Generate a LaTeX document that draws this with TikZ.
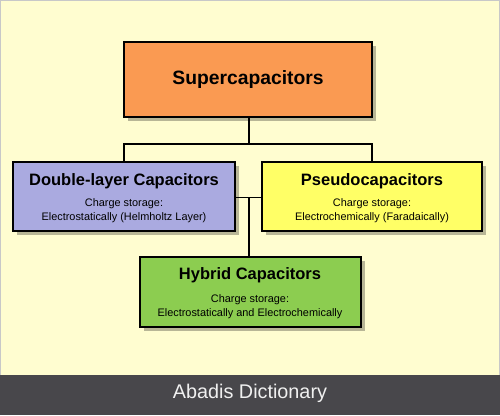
\documentclass[tikz,border=0pt]{standalone}
\usepackage{fontspec}
\setmainfont{Liberation Sans}
\usetikzlibrary{shadows}
\definecolor{cream}{HTML}{FFFDD0}
\definecolor{frameg}{HTML}{C8C8C8}
\definecolor{barg}{HTML}{48474B}
\definecolor{orangebox}{HTML}{FA9A52}
\definecolor{bluebox}{HTML}{AAAAE0}
\definecolor{yellowbox}{HTML}{FFFF66}
\definecolor{greenbox}{HTML}{8CCD50}
\tikzset{
  boxstyle/.style={draw=black, line width=2pt, rectangle, inner sep=0pt,
    drop shadow={shadow xshift=4pt, shadow yshift=-4pt, fill=black, opacity=0.28}},
  bigtitle/.style={font=\bfseries\fontsize{19.3}{22}\selectfont, inner sep=0pt},
  subtitle/.style={font=\bfseries\fontsize{16.5}{19}\selectfont, inner sep=0pt},
  smalltext/.style={font=\fontsize{10.9}{14}\selectfont, align=center, inner sep=0pt},
  link/.style={draw=black, line width=1.6pt},
}
\begin{document}
\begin{tikzpicture}[x=1pt,y=-1pt]
\useasboundingbox (0,0) rectangle (500,415);
% background
\fill[frameg] (0,0) rectangle (500,375);
\fill[cream] (1,1) rectangle (499,375);
\fill[barg] (0,375) rectangle (500,415);
\node[font=\fontsize{19.8}{22}\selectfont, text=white!94!black, inner sep=0pt] (brand) at (250,393) {Abadis Dictionary};
% connector coordinates
\coordinate (j1) at (249,144);
\coordinate (j2) at (249,197.5);
% boxes
\node[boxstyle, fill=orangebox, minimum width=248pt, minimum height=75pt] (sc) at (248,79.5) {};
\node[boxstyle, fill=bluebox, minimum width=222pt, minimum height=69pt] (dl) at (124,196.5) {};
\node[boxstyle, fill=yellowbox, minimum width=220pt, minimum height=69pt] (ps) at (372,196.5) {};
\node[boxstyle, fill=greenbox, minimum width=221pt, minimum height=70pt] (hy) at (250.5,292) {};
% connectors
\draw[link] (j1 |- sc.south) -- (j1);
\draw[link] (dl.north) |- (j1) -| (ps.north);
\draw[link] (dl.east |- j2) -- (ps.west |- j2);
\draw[link] (j2) -- (j2 |- hy.north);
% texts
\node[bigtitle] (sct) at (248,79.5) {Supercapacitors};
\node[subtitle] (dlt) at (124,181) {Double-layer Capacitors};
\node[smalltext] (dls) at (124,211) {Charge storage:\\Electrostatically (Helmholtz Layer)};
\node[subtitle] (pst) at (372,181) {Pseudocapacitors};
\node[smalltext] (pss) at (372,211) {Charge storage:\\Electrochemically (Faradaically)};
\node[subtitle] (hyt) at (250,275.5) {Hybrid Capacitors};
\node[smalltext] (hys) at (250,307) {Charge storage:\\Electrostatically and Electrochemically};
\end{tikzpicture}
\end{document}
